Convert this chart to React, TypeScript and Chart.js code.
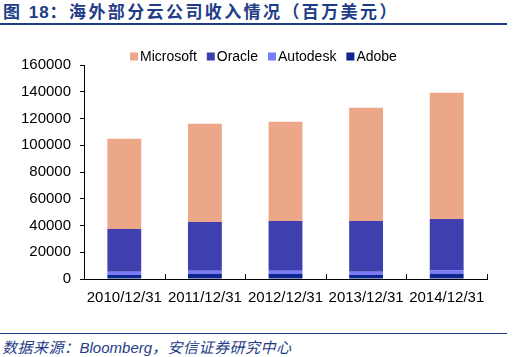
import React, { useEffect, useRef } from "react";
import { Chart, registerables } from "chart.js";

Chart.register(...registerables);

const categories = ["2010/12/31", "2011/12/31", "2012/12/31", "2013/12/31", "2014/12/31"];
const adobe = [3200, 3900, 3900, 3200, 3900];
const autodesk = [2200, 2300, 2300, 2300, 2400];
const oracle = [32050, 36500, 37250, 37950, 38640];
const microsoft = [67450, 73400, 74150, 84640, 94390];
const yTicks = [0, 20000, 40000, 60000, 80000, 100000, 120000, 140000, 160000];

const NAVY = "#1F3C88";
const FONT = '"Liberation Sans", Arial, sans-serif';

const legendPlugin = {
  id: "customLegend",
  afterDraw(chart: any) {
    const ctx = chart.ctx;
    const items = [...chart.data.datasets].reverse();
    ctx.save();
    ctx.font = "14px " + FONT;
    ctx.textBaseline = "middle";
    ctx.textAlign = "left";
    const box = 8;
    const gap = 2;
    const itemGap = 10;
    let x = 130;
    const cy = 16.5;
    for (const d of items) {
      ctx.fillStyle = d.backgroundColor;
      ctx.fillRect(x, cy - 4, box, box);
      ctx.fillStyle = "#000";
      ctx.fillText(d.label, x + box + gap, cy + 0.5);
      x += box + gap + ctx.measureText(d.label).width + itemGap;
    }
    ctx.restore();
  },
};

const xTickPlugin = {
  id: "xInnerTicks",
  afterDraw(chart: any) {
    const xs = chart.scales.x;
    const ctx = chart.ctx;
    const n = chart.data.labels.length;
    const bottom = chart.chartArea.bottom;
    ctx.save();
    ctx.strokeStyle = "#000";
    ctx.lineWidth = 1;
    ctx.beginPath();
    for (let i = 1; i <= n; i++) {
      const x = Math.round(xs.left + (i * xs.width) / n) + 0.5;
      ctx.moveTo(x, bottom);
      ctx.lineTo(x, bottom - 5);
    }
    ctx.stroke();
    ctx.restore();
  },
};

export default function App() {
  const ref = useRef<HTMLCanvasElement>(null);
  useEffect(() => {
    if (!ref.current) return;
    const chart = new Chart(ref.current, {
      type: "bar",
      data: {
        labels: categories,
        datasets: [
          { label: "Adobe", data: adobe, backgroundColor: "#0F2590" },
          { label: "Autodesk", data: autodesk, backgroundColor: "#7A7AFF" },
          { label: "Oracle", data: oracle, backgroundColor: "#3F3FAF" },
          { label: "Microsoft", data: microsoft, backgroundColor: "#ECA789" },
        ],
      },
      options: {
        animation: false,
        responsive: false,
        maintainAspectRatio: false,
        layout: { padding: { top: 25, left: 0, right: 26, bottom: 0 } },
        datasets: { bar: { barPercentage: 0.42, categoryPercentage: 1 } },
        plugins: { legend: { display: false }, tooltip: { enabled: false } },
        scales: {
          x: {
            stacked: true,
            grid: { display: true, drawOnChartArea: false, drawTicks: false, color: "#000" },
            border: { display: true, color: "#000", width: 1 },
            ticks: { color: "#000", font: { family: FONT, size: 15 }, padding: 10, maxRotation: 0, autoSkip: false },
            afterFit(scale: any) {
              scale.height = 41;
            },
          },
          y: {
            stacked: true,
            min: 0,
            max: 160000,
            afterBuildTicks(scale: any) {
              scale.ticks = yTicks.map((v) => ({ value: v }));
            },
            grid: { display: true, drawOnChartArea: false, drawTicks: true, tickLength: 4, color: "#000" },
            border: { display: true, color: "#000", width: 1 },
            ticks: {
              color: "#000",
              font: { family: FONT, size: 15 },
              padding: 9,
              callback: (v: any) => String(v),
            },
            afterFit(scale: any) {
              scale.width = 84;
            },
          },
        },
      },
      plugins: [legendPlugin, xTickPlugin],
    });
    return () => chart.destroy();
  }, []);

  return (
    <div style={{ position: "absolute", left: 0, top: 0, width: 513, height: 357, background: "#fff", overflow: "hidden" }}>
      <div
        style={{
          position: "absolute",
          left: 3,
          top: 0,
          height: 22,
          lineHeight: "22px",
          fontFamily: '"Noto Sans CJK SC", sans-serif',
          fontWeight: "bold",
          fontSize: 17,
          letterSpacing: 2.4,
          color: NAVY,
          whiteSpace: "nowrap",
        }}
      >
        图 <span style={{ fontFamily: FONT, letterSpacing: 1 }}>18</span>：海外部分云公司收入情况（百万美元）
      </div>
      <div style={{ position: "absolute", left: 0, top: 23, width: 507, height: 2, background: NAVY }} />
      <canvas ref={ref} width={513} height={280} style={{ position: "absolute", left: 0, top: 40, width: 513, height: 280 }} />
      <div style={{ position: "absolute", left: 0, top: 333, width: 507, height: 1, background: NAVY }} />
      <div
        style={{
          position: "absolute",
          left: 2,
          top: 338,
          height: 18,
          lineHeight: "18px",
          fontFamily: '"Noto Sans CJK SC", sans-serif',
          fontStyle: "italic",
          fontSize: 15,
          color: NAVY,
          whiteSpace: "nowrap",
        }}
      >
        <span style={{ letterSpacing: 0.5 }}>数据来源：</span>
        <span style={{ fontFamily: FONT }}>Bloomberg</span>
        <span style={{ letterSpacing: 0.5 }}>，安信证券研究中心</span>
      </div>
    </div>
  );
}
